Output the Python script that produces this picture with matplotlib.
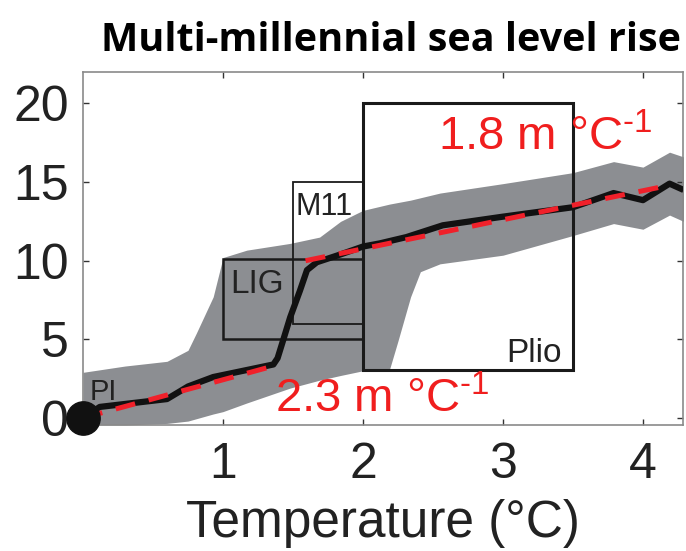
import matplotlib.pyplot as plt
from matplotlib.patches import Rectangle

plt.rcParams['font.family'] = ['Liberation Sans', 'DejaVu Sans']
plt.rcParams['mathtext.fontset'] = 'custom'
plt.rcParams['mathtext.rm'] = 'Liberation Sans'

# Data
band_x = [0, 0.3, 0.6, 0.75, 0.81, 0.93, 1.0, 1.17, 1.48, 1.69, 1.84, 2.0, 2.19, 2.25,
          2.34, 2.41, 2.55, 3.0, 3.5, 3.79, 4.0, 4.19, 4.29]
band_upper = [2.9, 3.3, 3.6, 4.3, 5.4, 7.7, 10.2, 10.67, 11.1, 11.5, 12.5, 13.2, 13.6, 13.7,
              13.85, 14.0, 14.3, 14.9, 15.6, 16.3, 15.95, 16.9, 16.6]
band_lower = [-0.45, -0.45, -0.35, -0.2, -0.05, 0.25, 0.4, 0.95, 1.9, 2.4, 2.7, 3.0, 3.1, 4.9,
              7.7, 9.3, 9.8, 10.35, 11.6, 12.36, 12.0, 12.9, 12.5]

line_x = [0, 0.12, 0.6, 0.75, 0.93, 1.36, 1.39, 1.43, 1.48, 1.55, 1.6, 1.67, 1.84, 2.0,
          2.12, 2.31, 2.57, 3.0, 3.5, 3.79, 4.0, 4.19, 4.29]
line_y = [0, 0.7, 1.2, 2.0, 2.6, 3.4, 3.8, 4.95, 6.4, 8.1, 9.4, 9.9, 10.4, 10.9,
          11.1, 11.5, 12.25, 12.8, 13.4, 14.3, 13.85, 14.9, 14.5]

fit1_x = [0, 1.36]
fit1_y = [0, 3.3]
fit2_x = [1.59, 4.19]
fit2_y = [10.0, 14.8]

# boxes: x0, x1, y0, y1
box_x0 = [1.0, 1.5, 2.0]
box_x1 = [2.0, 2.0, 3.5]
box_y0 = [5.0, 6.0, 3.05]
box_y1 = [10.1, 15.0, 20.0]
box_lw = [1.8, 1.3, 2.2]

fig = plt.figure(figsize=(6.86, 5.51), dpi=100)
ax = fig.add_axes([83/686, 126/551, 600/686, 353/551])

ax.fill_between(band_x, band_lower, band_upper, color='#8c8e92', lw=0, zorder=1)

for x0, x1, y0, y1, lw in zip(box_x0, box_x1, box_y0, box_y1, box_lw):
    ax.add_patch(Rectangle((x0, y0), x1 - x0, y1 - y0, fill=False, ec='#1a1a1a', lw=lw, zorder=2))

ax.plot(line_x, line_y, color='#111111', lw=4.5, zorder=3, solid_capstyle='butt')
ax.plot(fit1_x, fit1_y, color='#f0202a', lw=3.6, dashes=(4, 2.8), zorder=4)
ax.plot(fit2_x, fit2_y, color='#f0202a', lw=3.6, dashes=(4, 2.8), zorder=4)
ax.plot([0], [0], 'o', color='#111111', ms=24, zorder=5, clip_on=False)

# labels
ax.text(0.05, 1.14, 'PI', fontsize=21, color='#222222', zorder=6)
ax.text(1.05, 7.94, 'LIG', fontsize=24, color='#222222', zorder=6)
ax.text(1.52, 12.9, 'M11', fontsize=22, color='#222222', zorder=6)
ax.text(3.42, 3.56, 'Plio', fontsize=24, color='#222222', ha='right', zorder=6)
ax.text(2.536, 17.0, r'1.8 m °C$^{\text{-}1}$', fontsize=34, color='#f01e1e', zorder=6)
ax.text(1.37, 0.32, r'2.3 m °C$^{\text{-}1}$', fontsize=34, color='#f01e1e', zorder=6)

ax.set_xlim(0, 4.286)
ax.set_ylim(-0.45, 22)
ax.set_xticks([1, 2, 3, 4])
ax.set_yticks([0, 5, 10, 15, 20])
ax.tick_params(direction='in', length=4, width=1, colors='#333333', labelcolor='#222222',
               labelsize=36, top=True, right=True)
ax.tick_params(axis='x', pad=12)
ax.tick_params(axis='y', pad=10)
for s in ax.spines.values():
    s.set_color('#8a8a8a')
    s.set_linewidth(1.2)

ax.set_xlabel('Temperature (°C)', fontsize=37, labelpad=8, color='#222222')
ax.set_title('Multi-millennial sea level rise', fontsize=28.5, fontweight='bold',
             family=['Open Sans', 'DejaVu Sans'], pad=15, x=0.513)

fig.savefig('out.png', dpi=100)
